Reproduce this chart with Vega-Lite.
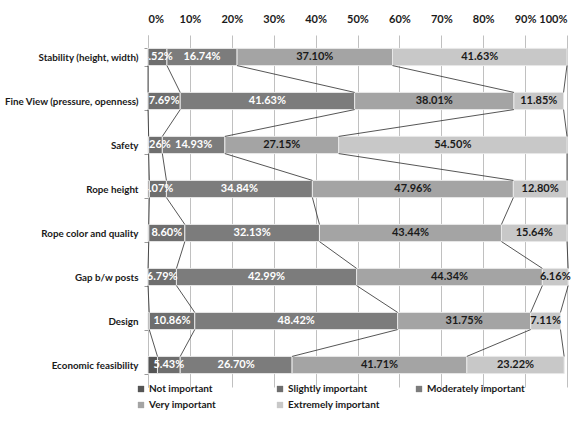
{
  "$schema": "https://vega.github.io/schema/vega-lite/v6.json",
  "width": 419,
  "height": 352,
  "autosize": {"type": "none"},
  "padding": {"left": 148, "top": 35, "right": 16, "bottom": 35},
  "background": "white",
  "config": {
    "font": "Lato",
    "view": {"stroke": null},
    "axis": {"labelFont": "Lato", "labelFontWeight": "bold", "labelFontSize": 11, "labelColor": "#1a1a1a"},
    "legend": {"labelFont": "Lato", "labelFontWeight": "bold", "labelFontSize": 10, "labelColor": "#1a1a1a"}
  },
  "data": {
    "values": [
      {"cat": "Stability (height, width)", "ci": 1, "level": "Not important", "k": 1, "value": 0.0},
      {"cat": "Stability (height, width)", "ci": 1, "level": "Slightly important", "k": 2, "value": 0.0452},
      {"cat": "Stability (height, width)", "ci": 1, "level": "Moderately important", "k": 3, "value": 0.1674},
      {"cat": "Stability (height, width)", "ci": 1, "level": "Very important", "k": 4, "value": 0.3710},
      {"cat": "Stability (height, width)", "ci": 1, "level": "Extremely important", "k": 5, "value": 0.4163},
      {"cat": "Fine View (pressure, openness)", "ci": 2, "level": "Not important", "k": 1, "value": 0.0},
      {"cat": "Fine View (pressure, openness)", "ci": 2, "level": "Slightly important", "k": 2, "value": 0.0769},
      {"cat": "Fine View (pressure, openness)", "ci": 2, "level": "Moderately important", "k": 3, "value": 0.4163},
      {"cat": "Fine View (pressure, openness)", "ci": 2, "level": "Very important", "k": 4, "value": 0.3801},
      {"cat": "Fine View (pressure, openness)", "ci": 2, "level": "Extremely important", "k": 5, "value": 0.1185},
      {"cat": "Safety", "ci": 3, "level": "Not important", "k": 1, "value": 0.0016},
      {"cat": "Safety", "ci": 3, "level": "Slightly important", "k": 2, "value": 0.0326},
      {"cat": "Safety", "ci": 3, "level": "Moderately important", "k": 3, "value": 0.1493},
      {"cat": "Safety", "ci": 3, "level": "Very important", "k": 4, "value": 0.2715},
      {"cat": "Safety", "ci": 3, "level": "Extremely important", "k": 5, "value": 0.5450},
      {"cat": "Rope height", "ci": 4, "level": "Not important", "k": 1, "value": 0.0033},
      {"cat": "Rope height", "ci": 4, "level": "Slightly important", "k": 2, "value": 0.0407},
      {"cat": "Rope height", "ci": 4, "level": "Moderately important", "k": 3, "value": 0.3484},
      {"cat": "Rope height", "ci": 4, "level": "Very important", "k": 4, "value": 0.4796},
      {"cat": "Rope height", "ci": 4, "level": "Extremely important", "k": 5, "value": 0.1280},
      {"cat": "Rope color and quality", "ci": 5, "level": "Not important", "k": 1, "value": 0.0019},
      {"cat": "Rope color and quality", "ci": 5, "level": "Slightly important", "k": 2, "value": 0.0860},
      {"cat": "Rope color and quality", "ci": 5, "level": "Moderately important", "k": 3, "value": 0.3213},
      {"cat": "Rope color and quality", "ci": 5, "level": "Very important", "k": 4, "value": 0.4344},
      {"cat": "Rope color and quality", "ci": 5, "level": "Extremely important", "k": 5, "value": 0.1564},
      {"cat": "Gap b/w posts", "ci": 6, "level": "Not important", "k": 1, "value": 0.0},
      {"cat": "Gap b/w posts", "ci": 6, "level": "Slightly important", "k": 2, "value": 0.0679},
      {"cat": "Gap b/w posts", "ci": 6, "level": "Moderately important", "k": 3, "value": 0.4299},
      {"cat": "Gap b/w posts", "ci": 6, "level": "Very important", "k": 4, "value": 0.4434},
      {"cat": "Gap b/w posts", "ci": 6, "level": "Extremely important", "k": 5, "value": 0.0616},
      {"cat": "Design", "ci": 7, "level": "Not important", "k": 1, "value": 0.0030},
      {"cat": "Design", "ci": 7, "level": "Slightly important", "k": 2, "value": 0.1086},
      {"cat": "Design", "ci": 7, "level": "Moderately important", "k": 3, "value": 0.4842},
      {"cat": "Design", "ci": 7, "level": "Very important", "k": 4, "value": 0.3175},
      {"cat": "Design", "ci": 7, "level": "Extremely important", "k": 5, "value": 0.0711},
      {"cat": "Economic feasibility", "ci": 8, "level": "Not important", "k": 1, "value": 0.0226},
      {"cat": "Economic feasibility", "ci": 8, "level": "Slightly important", "k": 2, "value": 0.0543},
      {"cat": "Economic feasibility", "ci": 8, "level": "Moderately important", "k": 3, "value": 0.2670},
      {"cat": "Economic feasibility", "ci": 8, "level": "Very important", "k": 4, "value": 0.4171},
      {"cat": "Economic feasibility", "ci": 8, "level": "Extremely important", "k": 5, "value": 0.2322}
    ]
  },
  "layer": [
    {
      "mark": {"type": "bar", "stroke": "#e8e8e8", "strokeWidth": 1},
      "encoding": {
        "y": {
          "field": "cat", "type": "nominal",
          "sort": ["Stability (height, width)", "Fine View (pressure, openness)", "Safety", "Rope height", "Rope color and quality", "Gap b/w posts", "Design", "Economic feasibility"],
          "scale": {"paddingInner": 0.61, "paddingOuter": 0.305},
          "axis": {"title": null, "domainColor": "#bfbfbf", "tickColor": "#9a9a9a", "tickBand": "extent", "tickSize": 4, "labelPadding": 6, "labelLimit": 200, "labelFontSize": 9.8, "grid": false}
        },
        "x": {
          "field": "value", "type": "quantitative", "stack": "zero",
          "scale": {"domain": [0, 1], "nice": false},
          "axis": {"orient": "top", "title": null, "format": "%", "values": [0, 0.1, 0.2, 0.3, 0.4, 0.5, 0.6, 0.7, 0.8, 0.9, 1], "domain": false, "ticks": false, "labelPadding": 11, "grid": true, "gridColor": "#c0c0c0", "gridWidth": 1}
        },
        "color": {
          "field": "level", "type": "nominal",
          "scale": {"domain": ["Not important", "Slightly important", "Moderately important", "Very important", "Extremely important"], "range": ["#555555", "#6e6e6e", "#7c7c7c", "#a4a4a4", "#c8c8c8"]},
          "legend": {"title": null, "orient": "none", "legendX": -12, "legendY": 349, "direction": "horizontal", "columns": 3, "gridAlign": "all", "columnPadding": 27, "rowPadding": 6, "symbolType": "square", "symbolSize": 40, "symbolStrokeWidth": 0, "labelOffset": 3}
        },
        "order": {"field": "k", "type": "quantitative"}
      }
    },
    {
      "transform": [
        {"stack": "value", "groupby": ["cat"], "sort": [{"field": "k", "order": "ascending"}], "as": ["v0", "v1"]},
        {"window": [{"op": "lead", "field": "v1", "as": "nv1"}, {"op": "lead", "field": "cat", "as": "ncat"}], "groupby": ["level"], "sort": [{"field": "ci", "order": "ascending"}]},
        {"filter": "datum.ncat != null"}
      ],
      "mark": {"type": "rule", "color": "#2b2b2b", "strokeWidth": 0.8},
      "encoding": {
        "x": {"field": "v1", "type": "quantitative"},
        "x2": {"field": "nv1"},
        "y": {"field": "cat", "type": "nominal", "bandPosition": 1, "sort": ["Stability (height, width)", "Fine View (pressure, openness)", "Safety", "Rope height", "Rope color and quality", "Gap b/w posts", "Design", "Economic feasibility"]},
        "y2": {"field": "ncat", "bandPosition": 0}
      }
    },
    {
      "mark": {"type": "text", "font": "Lato", "fontWeight": "bold", "fontSize": 11, "clip": true, "baseline": "middle", "color": "#ffffff"},
      "encoding": {
        "y": {"field": "cat", "type": "nominal", "sort": ["Stability (height, width)", "Fine View (pressure, openness)", "Safety", "Rope height", "Rope color and quality", "Gap b/w posts", "Design", "Economic feasibility"]},
        "x": {"field": "value", "type": "quantitative", "stack": "zero", "bandPosition": 0.5},
        "order": {"field": "k", "type": "quantitative"},
        "detail": {"field": "level"},
        "text": {"field": "value", "type": "quantitative", "format": ".2%"},
        "opacity": {"condition": {"test": "datum.k == 2", "value": 1}, "value": 0}
      }
    },
    {
      "mark": {"type": "text", "font": "Lato", "fontWeight": "bold", "fontSize": 11, "baseline": "middle"},
      "encoding": {
        "y": {"field": "cat", "type": "nominal", "sort": ["Stability (height, width)", "Fine View (pressure, openness)", "Safety", "Rope height", "Rope color and quality", "Gap b/w posts", "Design", "Economic feasibility"]},
        "x": {"field": "value", "type": "quantitative", "stack": "zero", "bandPosition": 0.5},
        "order": {"field": "k", "type": "quantitative"},
        "detail": {"field": "level"},
        "text": {"field": "value", "type": "quantitative", "format": ".2%"},
        "opacity": {"condition": {"test": "datum.k > 2", "value": 1}, "value": 0},
        "color": {"condition": {"test": "datum.k >= 4", "value": "#1a1a1a"}, "value": "#ffffff"}
      }
    }
  ]
}
